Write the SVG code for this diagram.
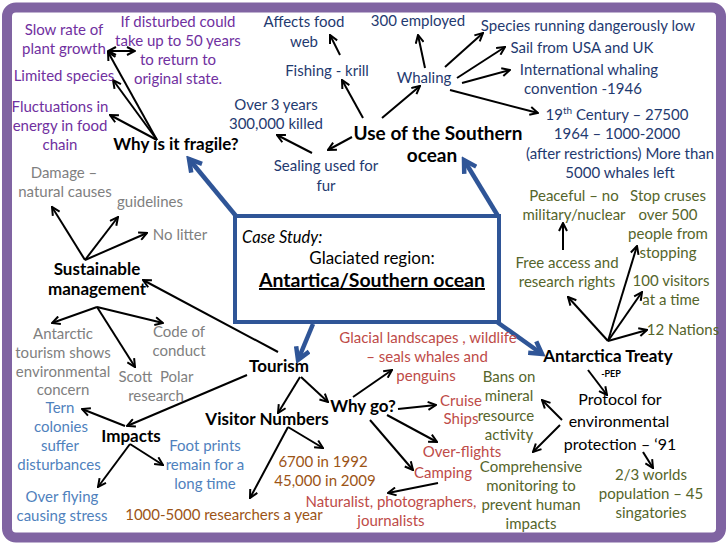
<svg xmlns="http://www.w3.org/2000/svg" width="728" height="546" viewBox="0 0 728 546">
<defs>
<style>
text{font-family:Lato,"Liberation Sans",sans-serif;font-size:15px;text-anchor:middle}
.b{font-weight:bold;font-size:17px;fill:#000}
.pu{fill:#7030A0}
.nv{fill:#1F3A70}
.gy{fill:#7F7F7F}
.ol{fill:#55652B}
.rd{fill:#BE4B48}
.or{fill:#9C5416}
.lb{fill:#4F81BD}
.bk{fill:#000}
.c{fill:none;stroke:#000;stroke-width:2;marker-end:url(#ah)}
.bl{fill:none;stroke:#2F5597;stroke-width:4.5;marker-end:url(#bh)}
</style>
<marker id="ah" viewBox="0 0 10 10" refX="9" refY="5" markerWidth="10" markerHeight="10" markerUnits="userSpaceOnUse" orient="auto-start-reverse">
<path d="M1,1 L9,5 L1,9" fill="none" stroke="#000" stroke-width="2"/>
</marker>
<marker id="bh" viewBox="0 0 18 18" refX="14" refY="9" markerWidth="18" markerHeight="18" markerUnits="userSpaceOnUse" orient="auto">
<path d="M2,2 L14,9 L2,16" fill="none" stroke="#2F5597" stroke-width="4.5"/>
</marker>
</defs>
<rect x="0" y="0" width="728" height="546" fill="#fff"/>
<rect x="7" y="7.5" width="714" height="530" rx="9" fill="#fff" stroke="#8064A2" stroke-width="10"/>

<g id="connectors">
<path class="bl" d="M236,216 L189,159"/>
<path class="bl" d="M498,216 L464,160"/>
<path class="bl" d="M497,322 L542,354"/>
<path class="bl" d="M313,324 L298,360"/>
<!-- fragile -->
<path class="c" d="M157,140 L108,52"/>
<path class="c" style="marker-start:url(#ah)" d="M108,51 L135,51"/>
<path class="c" d="M157,140 L113,80"/>
<path class="c" d="M157,140 L110,115"/>
<!-- use of southern ocean -->
<path class="c" d="M352,137 L328,150"/>
<path class="c" d="M312,153 L277,135"/>
<path class="c" d="M363,118 L342,80"/>
<path class="c" d="M340,55 L330,35"/>
<path class="c" d="M382,118 L420,86"/>
<path class="c" d="M425,68 L418,35"/>
<path class="c" d="M445,67 L483,33"/>
<path class="c" d="M457,78 L505,47"/>
<path class="c" d="M462,83 L510,70"/>
<path class="c" d="M450,90 L538,113"/>
<!-- sustainable -->
<path class="c" d="M85,260 L52,207"/>
<path class="c" d="M85,260 L118,217"/>
<path class="c" d="M85,260 L147,233"/>
<path class="c" d="M97,307 L52,323"/>
<path class="c" d="M97,307 L163,323"/>
<path class="c" d="M97,307 L135,367"/>
<path class="c" d="M278,352 L143,280"/>
<!-- tourism -->
<path class="c" d="M301,377 L328,402"/>
<path class="c" d="M300,377 L278,413"/>
<path class="c" d="M353,397 L392,370"/>
<path class="c" d="M398,409 L436,405"/>
<path class="c" d="M387,415 L437,442"/>
<path class="c" d="M370,420 L413,470"/>
<path class="c" d="M438,483 L388,493"/>
<path class="c" d="M288,427 L323,448"/>
<path class="c" d="M288,427 L250,498"/>
<path class="c" d="M247,375 L127,426"/>
<!-- impacts -->
<path class="c" d="M125,426 L82,409"/>
<path class="c" d="M130,444 L163,465"/>
<path class="c" d="M130,444 L98,487"/>
<!-- treaty -->
<path class="c" d="M608,341 L568,297"/>
<path class="c" d="M608,341 L637,246"/>
<path class="c" d="M608,341 L642,292"/>
<path class="c" d="M608,341 L647,330"/>
<path class="c" d="M563,250 L563,223"/>
<path class="c" d="M588,370 L607,395"/>
<path class="c" d="M562,420 L542,400"/>
<path class="c" d="M560,425 L533,452"/>
<path class="c" d="M643,452 L653,468"/>
</g>

<g id="center">
<rect x="235" y="216" width="264" height="106" fill="#fff" stroke="#2F5597" stroke-width="4"/>
<text class="bk" x="242" y="243" style="text-anchor:start;font-style:italic;font-size:16.5px">Case Study:</text>
<text class="bk" x="372" y="264" style="font-size:17px">Glaciated region:</text>
<text class="b" x="372" y="287" style="text-decoration:underline;font-size:19.5px">Antartica/Southern ocean</text>
</g>

<g id="fragile">
<text class="b" x="176" y="150">Why is it fragile?</text>
</g>
<g id="slow-growth">
<text class="pu" x="64" y="35">Slow rate of</text>
<text class="pu" x="64" y="54">plant growth</text>
</g>
<g id="limited-species"><text class="pu" x="64" y="81">Limited species</text></g>
<g id="fluctuations">
<text class="pu" x="60" y="112">Fluctuations in</text>
<text class="pu" x="60" y="131">energy in food</text>
<text class="pu" x="60" y="150">chain</text>
</g>
<g id="disturbed">
<text class="pu" x="178" y="27">If disturbed could</text>
<text class="pu" x="178" y="46">take up to 50 years</text>
<text class="pu" x="178" y="65">to return to</text>
<text class="pu" x="178" y="84">original state.</text>
</g>

<g id="use">
<text class="b" x="438" y="140" style="font-size:19px">Use of the Southern</text>
<text class="b" x="432" y="162" style="font-size:19px">ocean</text>
</g>
<g id="sealing">
<text class="nv" x="326" y="171">Sealing used for</text>
<text class="nv" x="326" y="191">fur</text>
</g>
<g id="over3">
<text class="nv" x="276" y="110">Over 3 years</text>
<text class="nv" x="276" y="129">300,000 killed</text>
</g>
<g id="fishing"><text class="nv" x="327" y="76">Fishing - krill</text></g>
<g id="foodweb">
<text class="nv" x="304" y="27">Affects food</text>
<text class="nv" x="304" y="47">web</text>
</g>
<g id="whaling"><text class="nv" x="424" y="83">Whaling</text></g>
<g id="employed"><text class="nv" x="418" y="26">300 employed</text></g>
<g id="species-low"><text class="nv" x="588" y="31">Species running dangerously low</text></g>
<g id="sail"><text class="nv" x="582" y="53">Sail from USA and UK</text></g>
<g id="iwc">
<text class="nv" x="589" y="75">International whaling</text>
<text class="nv" x="583" y="94">convention -1946</text>
</g>
<g id="century">
<text class="nv" x="617" y="120">19<tspan font-size="10" baseline-shift="super">th</tspan> Century – 27500</text>
<text class="nv" x="617" y="139">1964 – 1000-2000</text>
<text class="nv" x="620" y="159">(after restrictions) More than</text>
<text class="nv" x="620" y="178">5000 whales left</text>
</g>

<g id="sustainable">
<text class="b" x="97" y="275">Sustainable</text>
<text class="b" x="97" y="295">management</text>
</g>
<g id="damage">
<text class="gy" x="64" y="178">Damage –</text>
<text class="gy" x="65" y="197">natural causes</text>
</g>
<g id="guidelines"><text class="gy" x="150" y="207">guidelines</text></g>
<g id="nolitter"><text class="gy" x="180" y="240">No litter</text></g>
<g id="antarctic-tourism">
<text class="gy" x="63" y="339">Antarctic</text>
<text class="gy" x="63" y="358">tourism shows</text>
<text class="gy" x="63" y="377">environmental</text>
<text class="gy" x="63" y="395">concern</text>
</g>
<g id="code">
<text class="gy" x="179" y="337">Code of</text>
<text class="gy" x="179" y="356">conduct</text>
</g>
<g id="scott">
<text class="gy" x="156" y="382" style="white-space:pre">Scott  Polar</text>
<text class="gy" x="156" y="401">research</text>
</g>

<g id="tourism"><text class="b" x="279" y="372">Tourism</text></g>
<g id="whygo"><text class="b" x="363" y="412">Why go?</text></g>
<g id="visitor"><text class="b" x="267" y="425">Visitor Numbers</text></g>
<g id="glacial">
<text class="rd" x="428" y="343">Glacial landscapes , wildlife</text>
<text class="rd" x="427" y="362">– seals whales and</text>
<text class="rd" x="426" y="381">penguins</text>
</g>
<g id="cruise">
<text class="rd" x="461" y="406">Cruise</text>
<text class="rd" x="461" y="424">Ships</text>
</g>
<g id="overflights"><text class="rd" x="462" y="457">Over-flights</text></g>
<g id="camping"><text class="rd" x="443" y="478">Camping</text></g>
<g id="naturalist">
<text class="rd" x="391" y="507">Naturalist, photographers,</text>
<text class="rd" x="391" y="526">journalists</text>
</g>
<g id="numbers">
<text class="or" x="323" y="467">6700 in 1992</text>
<text class="or" x="325" y="486">45,000 in 2009</text>
</g>
<g id="researchers"><text class="or" x="224" y="520">1000-5000 researchers a year</text></g>

<g id="impacts"><text class="b" x="131" y="442">Impacts</text></g>
<g id="tern">
<text class="lb" x="60" y="413">Tern</text>
<text class="lb" x="61" y="432">colonies</text>
<text class="lb" x="60" y="451">suffer</text>
<text class="lb" x="59" y="470">disturbances</text>
</g>
<g id="footprints">
<text class="lb" x="205" y="451">Foot prints</text>
<text class="lb" x="205" y="470">remain for a</text>
<text class="lb" x="205" y="489">long time</text>
</g>
<g id="overflying">
<text class="lb" x="62" y="502">Over flying</text>
<text class="lb" x="62" y="521">causing stress</text>
</g>

<g id="treaty">
<text class="b" x="608" y="362">Antarctica Treaty</text>
<text class="bk" x="611" y="377" style="font-size:9px;font-weight:bold">-PEP</text>
</g>
<g id="protocol">
<text class="bk" x="620" y="405" style="font-size:16px">Protocol for</text>
<text class="bk" x="619" y="427" style="font-size:16px">environmental</text>
<text class="bk" x="620" y="450" style="font-size:16px">protection – ‘91</text>
</g>
<g id="bans">
<text class="ol" x="509" y="382">Bans on</text>
<text class="ol" x="509" y="401">mineral</text>
<text class="ol" x="506" y="421">resource</text>
<text class="ol" x="509" y="440">activity</text>
</g>
<g id="comprehensive">
<text class="ol" x="531" y="472">Comprehensive</text>
<text class="ol" x="531" y="491">monitoring to</text>
<text class="ol" x="531" y="510">prevent human</text>
<text class="ol" x="531" y="529">impacts</text>
</g>
<g id="worlds">
<text class="ol" x="651" y="480">2/3 worlds</text>
<text class="ol" x="651" y="499">population – 45</text>
<text class="ol" x="651" y="518">singatories</text>
</g>
<g id="peaceful">
<text class="ol" x="574" y="201">Peaceful – no</text>
<text class="ol" x="574" y="220">military/nuclear</text>
</g>
<g id="stopcruses">
<text class="ol" x="668" y="201">Stop cruses</text>
<text class="ol" x="668" y="220">over 500</text>
<text class="ol" x="668" y="239">people from</text>
<text class="ol" x="668" y="258">stopping</text>
</g>
<g id="freeaccess">
<text class="ol" x="567" y="268">Free access and</text>
<text class="ol" x="567" y="287">research rights</text>
</g>
<g id="visitors100">
<text class="ol" x="671" y="286">100 visitors</text>
<text class="ol" x="671" y="305">at a time</text>
</g>
<g id="nations"><text class="ol" x="683" y="335">12 Nations</text></g>
</svg>
